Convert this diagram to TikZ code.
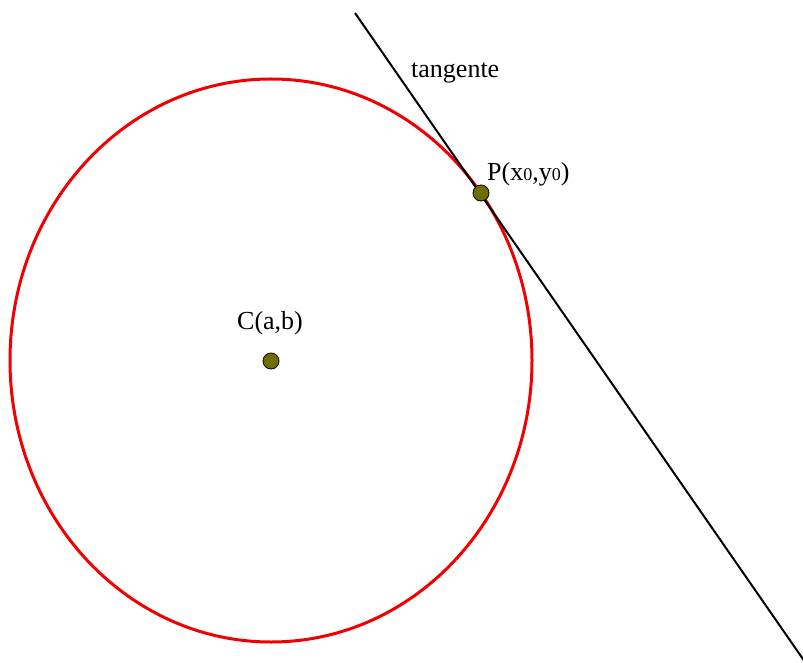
\documentclass[tikz,border=0pt]{standalone}
\usepackage{fontspec}
\setmainfont{Liberation Serif}
\definecolor{dotfill}{RGB}{110,110,0}
\definecolor{circred}{RGB}{240,0,0}
\begin{document}
\begin{tikzpicture}[x=1pt,y=-1pt,
  lbl/.style={anchor=base west,inner sep=0pt,font=\fontsize{26}{30}\selectfont},
  dot/.style={circle,draw=black,line width=0.8pt,fill=dotfill,minimum size=16pt,inner sep=0pt}]
\useasboundingbox (0,0) rectangle (803,663);
\draw[circred,line width=3pt] (271,360.5) ellipse [x radius=261,y radius=281.5];
\coordinate (T1) at (355,13);
\coordinate (T2) at (805,662);
\draw[black,line width=2pt] (T1) -- (T2);
\node[dot] (C) at (271,361) {};
\node[dot] (P) at (481,193) {};
\node[lbl] (tl) at (411,78) {tangente};
\node[lbl] (pl) at (487,181) {P(x{\fontsize{18}{20}\selectfont 0},y{\fontsize{18}{20}\selectfont 0})};
\node[lbl] (cl) at (237,329) {C(a,b)};
\end{tikzpicture}
\end{document}
